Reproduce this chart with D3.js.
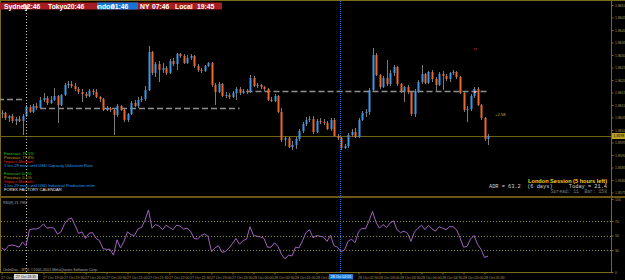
<!DOCTYPE html>
<html>
<head>
<meta charset="utf-8">
<script src="https://cdn.jsdelivr.net/npm/d3@7"></script>
<style>
  html, body { margin: 0; background: #000; overflow: hidden; }
  svg { display: block; }
</style>
</head>
<body>
<div id="chart"></div>
<script>
const width = 625;
const height = 280;

// M5 candles, open of each bar = close of the previous one
const firstOpen = 1.86064;
const highs = [
  1.8608, 1.86072, 1.8606, 1.86064, 1.86052, 1.86056, 1.86064, 1.861, 1.861, 1.86104,
  1.86108, 1.86132, 1.86148, 1.86136, 1.86136, 1.86168, 1.8614, 1.86144, 1.86188, 1.86196,
  1.86196, 1.86188, 1.86172, 1.86164, 1.86152, 1.86164, 1.86164, 1.86164, 1.86136, 1.86128,
  1.86096, 1.86092, 1.86088, 1.86104, 1.861, 1.86084, 1.86068, 1.86116, 1.8612, 1.86132,
  1.86136, 1.86176, 1.86336, 1.86316, 1.86272, 1.86276, 1.86268, 1.86256, 1.86284, 1.86288,
  1.86308, 1.86308, 1.86304, 1.863, 1.86304, 1.863, 1.86264, 1.86248, 1.8626, 1.86272,
  1.86272, 1.86188, 1.86192, 1.86188, 1.86152, 1.86148, 1.86156, 1.86172, 1.86172, 1.86164,
  1.86164, 1.8622, 1.86216, 1.86188, 1.86184, 1.86176, 1.86168, 1.86132, 1.86144, 1.8614,
  1.86088, 1.85976, 1.85972, 1.85956, 1.85972, 1.86004, 1.86032, 1.86052, 1.86056, 1.86056,
  1.86044, 1.86048, 1.86044, 1.86036, 1.86048, 1.86048, 1.85984, 1.85972, 1.85944, 1.85988,
  1.86004, 1.86008, 1.86048, 1.86076, 1.86084, 1.86168, 1.86328, 1.86308, 1.86224, 1.86216,
  1.8628, 1.8624, 1.8626, 1.86256, 1.86188, 1.86176, 1.8618, 1.86156, 1.86164, 1.862,
  1.8626, 1.86228, 1.86236, 1.8624, 1.86212, 1.86232, 1.86236, 1.86224, 1.86232, 1.8624,
  1.86236, 1.86216, 1.86152, 1.86096, 1.86144, 1.86172, 1.86172, 1.86104, 1.86052, 1.85984
];
const lows = [
  1.86048, 1.8604, 1.86032, 1.86028, 1.8602, 1.86032, 1.8598, 1.86052, 1.86068, 1.86068,
  1.8608, 1.86084, 1.86112, 1.861, 1.86104, 1.86116, 1.86028, 1.86096, 1.86136, 1.86168,
  1.86168, 1.86156, 1.86144, 1.86112, 1.86128, 1.86132, 1.8614, 1.86128, 1.86112, 1.86076,
  1.86076, 1.86072, 1.8598, 1.86052, 1.86076, 1.86032, 1.86032, 1.8606, 1.86092, 1.86088,
  1.86112, 1.86116, 1.86156, 1.8622, 1.86212, 1.86192, 1.86228, 1.8622, 1.86224, 1.86256,
  1.8624, 1.86288, 1.86264, 1.86264, 1.8628, 1.86248, 1.86232, 1.86228, 1.86232, 1.86252,
  1.86172, 1.861, 1.86148, 1.86132, 1.86128, 1.86124, 1.86128, 1.8612, 1.8614, 1.86144,
  1.86144, 1.86148, 1.86172, 1.86168, 1.86164, 1.86156, 1.86116, 1.86112, 1.86112, 1.86068,
  1.85952, 1.85936, 1.85928, 1.8592, 1.85924, 1.85956, 1.85988, 1.86016, 1.86032, 1.85984,
  1.85988, 1.86024, 1.8602, 1.86, 1.85996, 1.85972, 1.8596, 1.8592, 1.85924, 1.85928,
  1.85972, 1.85968, 1.85968, 1.86036, 1.86052, 1.8606, 1.86156, 1.86216, 1.86164, 1.86168,
  1.86176, 1.86176, 1.86216, 1.86176, 1.86148, 1.86112, 1.86144, 1.86056, 1.86052, 1.86148,
  1.86184, 1.86184, 1.86184, 1.86192, 1.86152, 1.86176, 1.8616, 1.86196, 1.86192, 1.8622,
  1.86204, 1.86144, 1.86072, 1.86032, 1.86076, 1.86128, 1.86096, 1.8604, 1.85956, 1.8594
];
const closes = [
  1.86068, 1.86048, 1.86056, 1.86036, 1.86044, 1.86036, 1.86056, 1.86092, 1.86072, 1.86096,
  1.86088, 1.8612, 1.86128, 1.86108, 1.8612, 1.86136, 1.861, 1.8614, 1.8618, 1.86184,
  1.86176, 1.86164, 1.86152, 1.86144, 1.86136, 1.86156, 1.86152, 1.86132, 1.86124, 1.8608,
  1.86088, 1.8608, 1.8606, 1.86096, 1.8608, 1.8604, 1.86064, 1.86108, 1.86096, 1.8612,
  1.86124, 1.8616, 1.86312, 1.86228, 1.86264, 1.8624, 1.86248, 1.86228, 1.86276, 1.86264,
  1.86304, 1.86296, 1.86268, 1.86288, 1.86296, 1.86256, 1.8624, 1.86236, 1.86256, 1.86268,
  1.8618, 1.86152, 1.86184, 1.86136, 1.8614, 1.86132, 1.86148, 1.86164, 1.86148, 1.86156,
  1.86152, 1.86208, 1.86176, 1.8618, 1.86172, 1.86164, 1.8612, 1.86116, 1.86136, 1.86072,
  1.8596, 1.85968, 1.85932, 1.8594, 1.85964, 1.85996, 1.86024, 1.8604, 1.86044, 1.85992,
  1.86036, 1.86032, 1.86028, 1.86004, 1.8604, 1.85976, 1.85968, 1.85928, 1.85936, 1.8598,
  1.85992, 1.85972, 1.8604, 1.86068, 1.86072, 1.8616, 1.863, 1.8622, 1.86172, 1.86208,
  1.86184, 1.86228, 1.86252, 1.86184, 1.86156, 1.86172, 1.86152, 1.86064, 1.86156, 1.86192,
  1.86224, 1.86188, 1.86232, 1.86204, 1.8618, 1.86224, 1.86216, 1.86204, 1.86228, 1.86232,
  1.86212, 1.86148, 1.8608, 1.86084, 1.86136, 1.86164, 1.861, 1.86048, 1.85964, 1.85976
];
const rsi = [
  33, 30, 36, 37, 36, 34, 41, 36, 58, 59,
  59, 61, 66, 60, 61, 60, 52, 55, 66, 72,
  74, 64, 53, 55, 46, 53, 54, 46, 43, 32,
  31, 31, 23, 44, 33, 42, 55, 51, 50, 59,
  61, 71, 85, 60, 65, 63, 58, 64, 61, 58,
  64, 63, 59, 60, 56, 46, 45, 50, 52, 49,
  28, 33, 36, 27, 28, 33, 39, 46, 38, 43,
  45, 62, 50, 49, 48, 46, 34, 34, 40, 35,
  24, 18, 23, 22, 34, 33, 43, 54, 58, 47,
  50, 49, 48, 42, 50, 36, 34, 28, 30, 42,
  45, 40, 55, 60, 59, 70, 83, 68, 60, 65,
  61, 67, 70, 58, 54, 56, 53, 42, 55, 60,
  64, 58, 64, 59, 56, 62, 60, 58, 62, 62,
  58, 47, 34, 35, 45, 50, 38, 31, 20, 21.7982
];

const priceTicks = [1.865, 1.8645, 1.864, 1.8635, 1.863, 1.8625, 1.862, 1.8615,
  1.861, 1.8605, 1.86, 1.8595, 1.859, 1.8585, 1.858, 1.8575];
const rsiTicks = [0, 30, 50, 70, 100];
const rsiLevels = [30, 50, 70];
const timeTickBars = [0, 6, 12, 18, 24, 30, 36, 42, 48, 54, 60, 66, 72, 78, 84,
  90, 96, 102, 108, 114, 120, 126, 132, 138];
const timeLabels = ["27 Oct 2015", "27 Oct 18:30", "27 Oct 19:00", "27 Oct 19:30",
  "27 Oct 20:00", "27 Oct 20:30", "27 Oct 21:00", "27 Oct 21:30", "27 Oct 22:00",
  "27 Oct 22:30", "27 Oct 23:00", "27 Oct 23:30", "28 Oct 00:00", "28 Oct 00:30",
  "28 Oct 01:00", "28 Oct 01:30", "28 Oct 02:00", "28 Oct 02:30", "28 Oct 03:00",
  "28 Oct 03:30", "28 Oct 04:00", "28 Oct 04:30", "28 Oct 05:00", "28 Oct 05:30"];

// dashed session levels: price, first bar, last bar
const levelPrices = [1.86124, 1.86088, 1.86156];
const levelFrom = [-1, 11, 70];
const levelTo = [6, 68, 139];

const bidPrice = 1.85976;
const whiteLineBar = 7, whiteLineLabel = "27 Oct 18:35";
const blueLineBar = 97, blueLineLabel = "28 Oct 02:05";

const sessions = ["Sydney", "Tokyo", "London", "NY", "Local"];
const sessionTimes = ["02:46", "20:46", "01:46", "07:46", "19:45"];

const news = [
  ["Forecast: 78.1%", "Previous: 77.8%", "Impact: Medium", "1 hrs 29 mins until USD Capacity Utilization Rate"],
  ["Forecast: 0.3%", "Previous: 0.1%", "Impact: Medium", "1 hrs 29 mins until USD Industrial Production m/m"]
];

// ---- layout
const axisX = 611;
const mainBottom = 196;
const rsiTop = 199, rsiBottom = 272;
const frame = "#7a6a1a";
const tickColor = "#a89a5a";
const bull = "#3f96e4", bear = "#ec672c", wick = "#7c7c7c";
const sans = "'Liberation Sans', Arial, sans-serif";

const x = d3.scaleLinear().domain([0, 139]).range([1.5, 488]);
const y = d3.scaleLinear().domain([1.8652, 1.8652 - 0.00004 * mainBottom]).range([0, mainBottom]);
const yR = d3.scaleLinear().domain([0, 100]).range([rsiBottom, rsiTop]);

const svg = d3.select("#chart").append("svg")
  .attr("width", width).attr("height", height)
  .style("background", "#000")
  .style("font-family", sans);

const defs = svg.append("defs");
defs.append("clipPath").attr("id", "mainClip")
  .append("rect").attr("x", 0).attr("y", 1).attr("width", axisX).attr("height", mainBottom - 1);

// frame
svg.append("line").attr("x1", 0).attr("x2", width).attr("y1", 0.5).attr("y2", 0.5).attr("stroke", frame);
svg.append("line").attr("x1", 0.5).attr("x2", 0.5).attr("y1", 0).attr("y2", rsiBottom).attr("stroke", frame);
svg.append("line").attr("x1", axisX + 0.5).attr("x2", axisX + 0.5).attr("y1", 0).attr("y2", rsiBottom + 1).attr("stroke", frame);
svg.append("rect").attr("x", 0).attr("y", mainBottom).attr("width", width).attr("height", 2).attr("fill", "#6a5814");
svg.append("line").attr("x1", 0).attr("x2", axisX + 1).attr("y1", rsiBottom + 0.5).attr("y2", rsiBottom + 0.5).attr("stroke", frame);

const main = svg.append("g").attr("clip-path", "url(#mainClip)");

// bid line
main.append("line").attr("x1", 0).attr("x2", axisX)
  .attr("y1", Math.round(y(bidPrice)) + 0.5).attr("y2", Math.round(y(bidPrice)) + 0.5)
  .attr("stroke", "#6e6214");

// dashed levels
main.selectAll(".level").data(levelPrices).join("line")
  .attr("x1", (d, i) => x(levelFrom[i]))
  .attr("x2", (d, i) => x(levelTo[i]))
  .attr("y1", d => Math.round(y(d)) + 0.5)
  .attr("y2", d => Math.round(y(d)) + 0.5)
  .attr("stroke", "#8e8e8e").attr("stroke-width", 1.3).attr("stroke-dasharray", "6,3");

// candles
const bars = closes.map((c, i) => ({ i, o: i ? closes[i - 1] : firstOpen, h: highs[i], l: lows[i], c }));
const cx = d => Math.round(x(d.i));

main.selectAll(".wick").data(bars).join("line")
  .attr("x1", d => cx(d) + 0.5).attr("x2", d => cx(d) + 0.5)
  .attr("y1", d => y(d.h)).attr("y2", d => y(d.l))
  .attr("stroke", wick).attr("stroke-width", 1);

main.selectAll(".body").data(bars).join("rect")
  .attr("x", d => cx(d) - 0.5)
  .attr("width", 2)
  .attr("y", d => y(Math.max(d.o, d.c)))
  .attr("height", d => Math.max(1, Math.abs(y(d.o) - y(d.c))))
  .attr("fill", d => d.c > d.o ? bull : d.c < d.o ? bear : "#c8c8c8");

// small markers near the last bars
main.append("rect").attr("x", 474).attr("y", 48.5).attr("width", 3).attr("height", 1).attr("fill", "#c0201c");
main.append("rect").attr("x", 474).attr("y", 91).attr("width", 2).attr("height", 2).attr("fill", "#f0a0a0");
main.append("text").attr("x", 495).attr("y", 115.5).attr("font-size", 4.2).attr("fill", "#c8b040").text("+2.58");

// vertical lines
svg.append("line").attr("x1", x(whiteLineBar) + 0.5).attr("x2", x(whiteLineBar) + 0.5)
  .attr("y1", 10).attr("y2", rsiBottom).attr("stroke", "#bdbdbd").attr("stroke-dasharray", "1,2");
svg.append("line").attr("x1", x(blueLineBar) - 0.5).attr("x2", x(blueLineBar) - 0.5)
  .attr("y1", 1).attr("y2", rsiBottom).attr("stroke", "#1f6fd6").attr("stroke-dasharray", "1,1");

// price axis
const pAxis = svg.append("g").attr("transform", `translate(${axisX + 0.5},0)`)
  .call(d3.axisRight(y).tickValues(priceTicks).tickFormat(d3.format(".4f")).tickSize(2).tickPadding(1.5));
pAxis.select(".domain").remove();
pAxis.selectAll("line").attr("stroke", frame);
pAxis.selectAll("text").attr("fill", tickColor).attr("font-size", 3.5).attr("font-family", sans);

// bid price box
const by = y(bidPrice);
svg.append("rect").attr("x", axisX + 1).attr("y", by - 3).attr("width", width - axisX - 1).attr("height", 6).attr("fill", "#bca024");
svg.append("text").attr("x", axisX + 2.5).attr("y", by + 1.3).attr("font-size", 3.5).attr("fill", "#000")
  .text(d3.format(".4f")(bidPrice));

// session bar
svg.append("rect").attr("x", 0).attr("y", 2.5).attr("width", 222).attr("height", 7).attr("fill", "#a51d22");
svg.append("rect").attr("x", 97).attr("y", 2.5).attr("width", 41).attr("height", 7).attr("fill", "#1874d2");
defs.append("clipPath").attr("id", "ldnClip")
  .append("rect").attr("x", 97).attr("y", 0).attr("width", 60).attr("height", 12);
const nameX = [4, 48, 89.5, 140, 175];
const timeX = [23, 67, 111, 152, 197];
const sess = svg.append("g").attr("font-size", 6.8).attr("font-weight", "bold").attr("fill", "#fff");
sess.selectAll(".sn").data(sessions).join("text")
  .attr("x", (d, i) => nameX[i]).attr("y", 8.6)
  .attr("clip-path", d => d === "London" ? "url(#ldnClip)" : null)
  .text(d => d);
sess.selectAll(".st").data(sessionTimes).join("text")
  .attr("x", (d, i) => timeX[i]).attr("y", 8.6).text(d => d);

// news block
const newsColors = ["#19d219", "#d2961e", "#e01a1a", "#1e9ef0"];
const nb = svg.append("g").attr("font-size", 4.1);
news.forEach((lines, k) => {
  lines.forEach((t, j) => {
    nb.append("text").attr("x", 4).attr("y", 154.8 + k * 20.3 + j * 3.9)
      .attr("fill", newsColors[j]).text(t);
  });
});
nb.append("text").attr("x", 4).attr("y", 191.2).attr("fill", "#e6e6e6").text("FOREX FACTORY CALENDAR");

// session info block
svg.append("text").attr("x", 607).attr("y", 183).attr("text-anchor", "end")
  .attr("font-size", 5.6).attr("font-weight", "bold").attr("fill", "#ffd21e")
  .text("London Session (5 hours left)");
const mono = "'Liberation Mono', 'DejaVu Sans Mono', monospace";
svg.append("text").attr("x", 489).attr("y", 188.3).attr("font-size", 5.3).attr("font-family", mono)
  .attr("fill", "#d6d6d6").attr("xml:space", "preserve").text("ADR = 63.2  (6 days)");
svg.append("text").attr("x", 607).attr("y", 188.3).attr("text-anchor", "end").attr("font-size", 5.3)
  .attr("font-family", mono).attr("fill", "#d6d6d6").text("Today = 21.4");
svg.append("text").attr("x", 607).attr("y", 193.3).attr("text-anchor", "end").attr("font-size", 4.7)
  .attr("font-family", mono).attr("fill", "#7e7e7e").attr("xml:space", "preserve").text("Spread: 11  Bar: 158");

// RSI panel
svg.selectAll(".rlev").data(rsiLevels).join("line")
  .attr("x1", 1).attr("x2", axisX)
  .attr("y1", d => Math.round(yR(d)) + 0.5).attr("y2", d => Math.round(yR(d)) + 0.5)
  .attr("stroke", "#8e8a22").attr("stroke-dasharray", "1,2");

svg.append("path").datum(rsi)
  .attr("fill", "none").attr("stroke", "#a062c0").attr("stroke-width", 1)
  .attr("d", d3.line().x((d, i) => x(i)).y(d => yR(d)));

const rAxis = svg.append("g").attr("transform", `translate(${axisX + 0.5},0)`)
  .call(d3.axisRight(yR).tickValues(rsiTicks).tickSize(2).tickPadding(1.5));
rAxis.select(".domain").remove();
rAxis.selectAll("line").attr("stroke", frame);
rAxis.selectAll("text").attr("fill", tickColor).attr("font-size", 3.5).attr("font-family", sans);

svg.append("text").attr("x", 3).attr("y", 203.5).attr("font-size", 3.6).attr("fill", "#a8a8a8")
  .text("RSI(8) " + d3.format(".4f")(rsi[rsi.length - 1]));
svg.append("text").attr("x", 3).attr("y", 271).attr("font-size", 3.7).attr("fill", "#a8a8a8")
  .text("OnlinDoc - MT4, \u00a92001-2015 MetaQuotes Software Corp.");

// time axis; labels that sit under the line-time boxes are hidden, as in MT4
const boxBars = [whiteLineBar, blueLineBar];
const shown = timeTickBars.filter(b => !boxBars.some(v => Math.abs(x(b) - x(v)) < 13));
const tAxis = svg.append("g").attr("transform", `translate(0,${rsiBottom + 0.5})`)
  .call(d3.axisBottom(x).tickValues(shown)
    .tickFormat(b => timeLabels[timeTickBars.indexOf(b)]).tickSize(2).tickPadding(1));
tAxis.select(".domain").remove();
tAxis.selectAll("line").attr("stroke", frame);
tAxis.selectAll("text").attr("fill", tickColor).attr("font-size", 3.6)
  .attr("font-family", sans)
  .attr("text-anchor", "start").attr("dx", -1).attr("dy", "0.9em");

// time labels of the two vertical lines
function timeBox(bar, label, bg, fg) {
  const cxv = x(bar);
  svg.append("rect").attr("x", cxv - 12).attr("y", 274).attr("width", 24).attr("height", 5.5).attr("fill", bg);
  svg.append("text").attr("x", cxv).attr("y", 278.2).attr("text-anchor", "middle")
    .attr("font-size", 3.6).attr("fill", fg).text(label);
}
timeBox(whiteLineBar, whiteLineLabel, "#d8d8d8", "#202020");
timeBox(blueLineBar, blueLineLabel, "#1c7ee0", "#ffffff");
</script>
</body>
</html>
